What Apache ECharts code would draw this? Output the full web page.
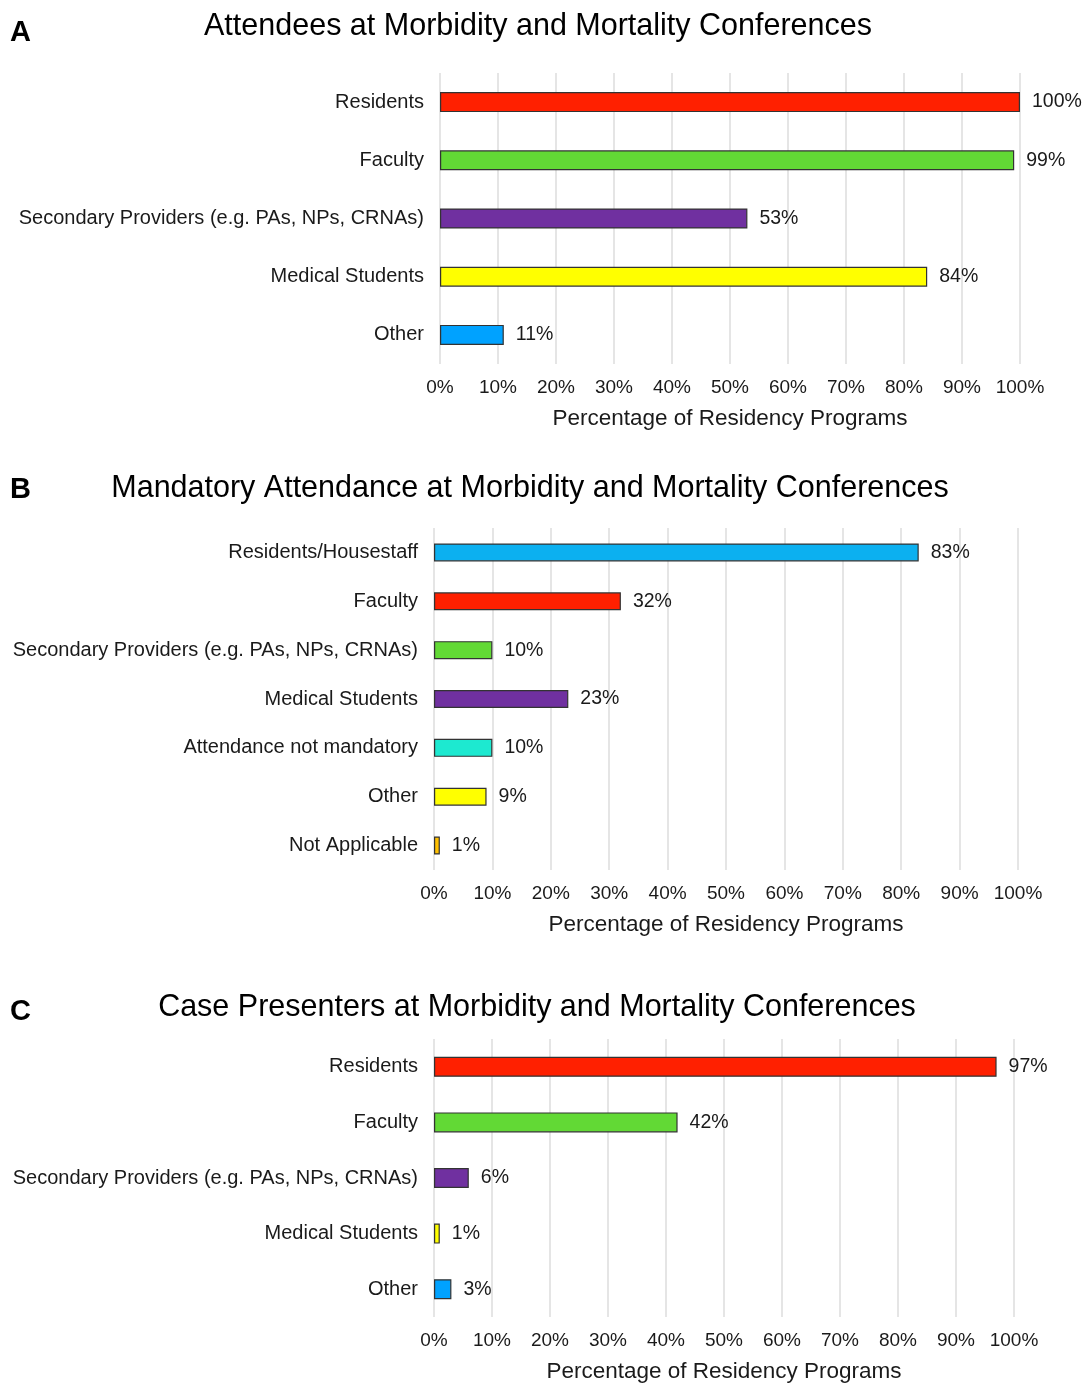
<!DOCTYPE html>
<html><head><meta charset="utf-8">
<script src="https://cdn.jsdelivr.net/npm/echarts@6/dist/echarts.min.js"></script>
<style>html,body{margin:0;padding:0;background:#fff}#c{width:1086px;height:1384px}</style>
</head><body><div id="c"></div>
<script>
const titleA = 'Attendees at Morbidity and Mortality Conferences';
const catsA = ['Residents','Faculty','Secondary Providers (e.g. PAs, NPs, CRNAs)','Medical Students','Other'];
const valsA = [100, 99, 53, 84, 11];
const colorsA = ['#FF2000','#62D935','#7030A0','#FFFF00','#00A2FF'];

const titleB = 'Mandatory Attendance at Morbidity and Mortality Conferences';
const catsB = ['Residents/Housestaff','Faculty','Secondary Providers (e.g. PAs, NPs, CRNAs)','Medical Students','Attendance not mandatory','Other','Not Applicable'];
const valsB = [83, 32, 10, 23, 10, 9, 1];
const colorsB = ['#0CB0F0','#FF2000','#62D935','#7030A0','#1DE9D0','#FFFF00','#FFC000'];

const titleC = 'Case Presenters at Morbidity and Mortality Conferences';
const catsC = ['Residents','Faculty','Secondary Providers (e.g. PAs, NPs, CRNAs)','Medical Students','Other'];
const valsC = [97, 42, 6, 1, 3];
const colorsC = ['#FF2000','#62D935','#7030A0','#FFFF00','#00A2FF'];

const xTicks = [0,10,20,30,40,50,60,70,80,90,100];
const axisName = 'Percentage of Residency Programs';
const panelLetters = ['A','B','C'];

const FONT = '"Liberation Sans", Arial, Helvetica, sans-serif';
const TXT = '#1a1a1a';

const grids = [
  {left: 440, width: 580, top: 73, height: 291, outerBoundsMode: 'none'},
  {left: 434, width: 584, top: 528, height: 342, outerBoundsMode: 'none'},
  {left: 434, width: 580, top: 1039, height: 278, outerBoundsMode: 'none'}
];
const cats = [catsA, catsB, catsC];
const vals = [valsA, valsB, valsC];
const cols = [colorsA, colorsB, colorsC];
const barW = [20, 18, 20];
const titles = [titleA, titleB, titleC];
const titlePos = [{x: 538, y: 27}, {x: 530, y: 489}, {x: 537, y: 1008}];
const letterY = [33, 490, 1012];

const option = {
  animation: false,
  backgroundColor: '#fff',
  textStyle: {fontFamily: FONT},
  graphic: panelLetters.map((l, i) => ({
    type: 'text', left: 10, top: letterY[i] - 15,
    style: {text: l, font: 'bold 29px ' + FONT, fill: '#000'}
  })).concat(titles.map((t, i) => ({
    type: 'text', x: titlePos[i].x, y: titlePos[i].y,
    style: {text: t, font: '30.5px ' + FONT, fill: '#000', textAlign: 'center', textVerticalAlign: 'middle'}
  }))),
  grid: grids,
  xAxis: grids.map((g, i) => ({
    type: 'value', gridIndex: i, min: 0, max: 100, interval: 10,
    name: axisName, nameLocation: 'middle', nameGap: 43,
    nameTextStyle: {fontSize: 22.5, color: TXT, fontFamily: FONT},
    axisLine: {show: false}, axisTick: {show: false},
    axisLabel: {fontSize: 19, color: TXT, margin: 14, formatter: v => xTicks.includes(v) ? v + '%' : ''},
    splitLine: {show: true, lineStyle: {color: '#dcdcdc', width: 1.5}}
  })),
  yAxis: grids.map((g, i) => ({
    type: 'category', gridIndex: i, data: cats[i], inverse: true,
    axisLine: {show: false}, axisTick: {show: false},
    axisLabel: {fontSize: 20, color: TXT, margin: 16}
  })),
  series: grids.map((g, i) => ({
    type: 'bar', xAxisIndex: i, yAxisIndex: i,
    barWidth: barW[i],
    data: vals[i].map((v, j) => ({value: v, itemStyle: {color: cols[i][j]}})),
    itemStyle: {borderColor: '#333', borderWidth: 1.2},
    label: {show: true, position: 'right', distance: 12, fontSize: 19.5, color: TXT, formatter: p => p.value + '%'}
  }))
};
echarts.init(document.getElementById('c'), null, {renderer: 'canvas'}).setOption(option);
</script>
</body></html>
